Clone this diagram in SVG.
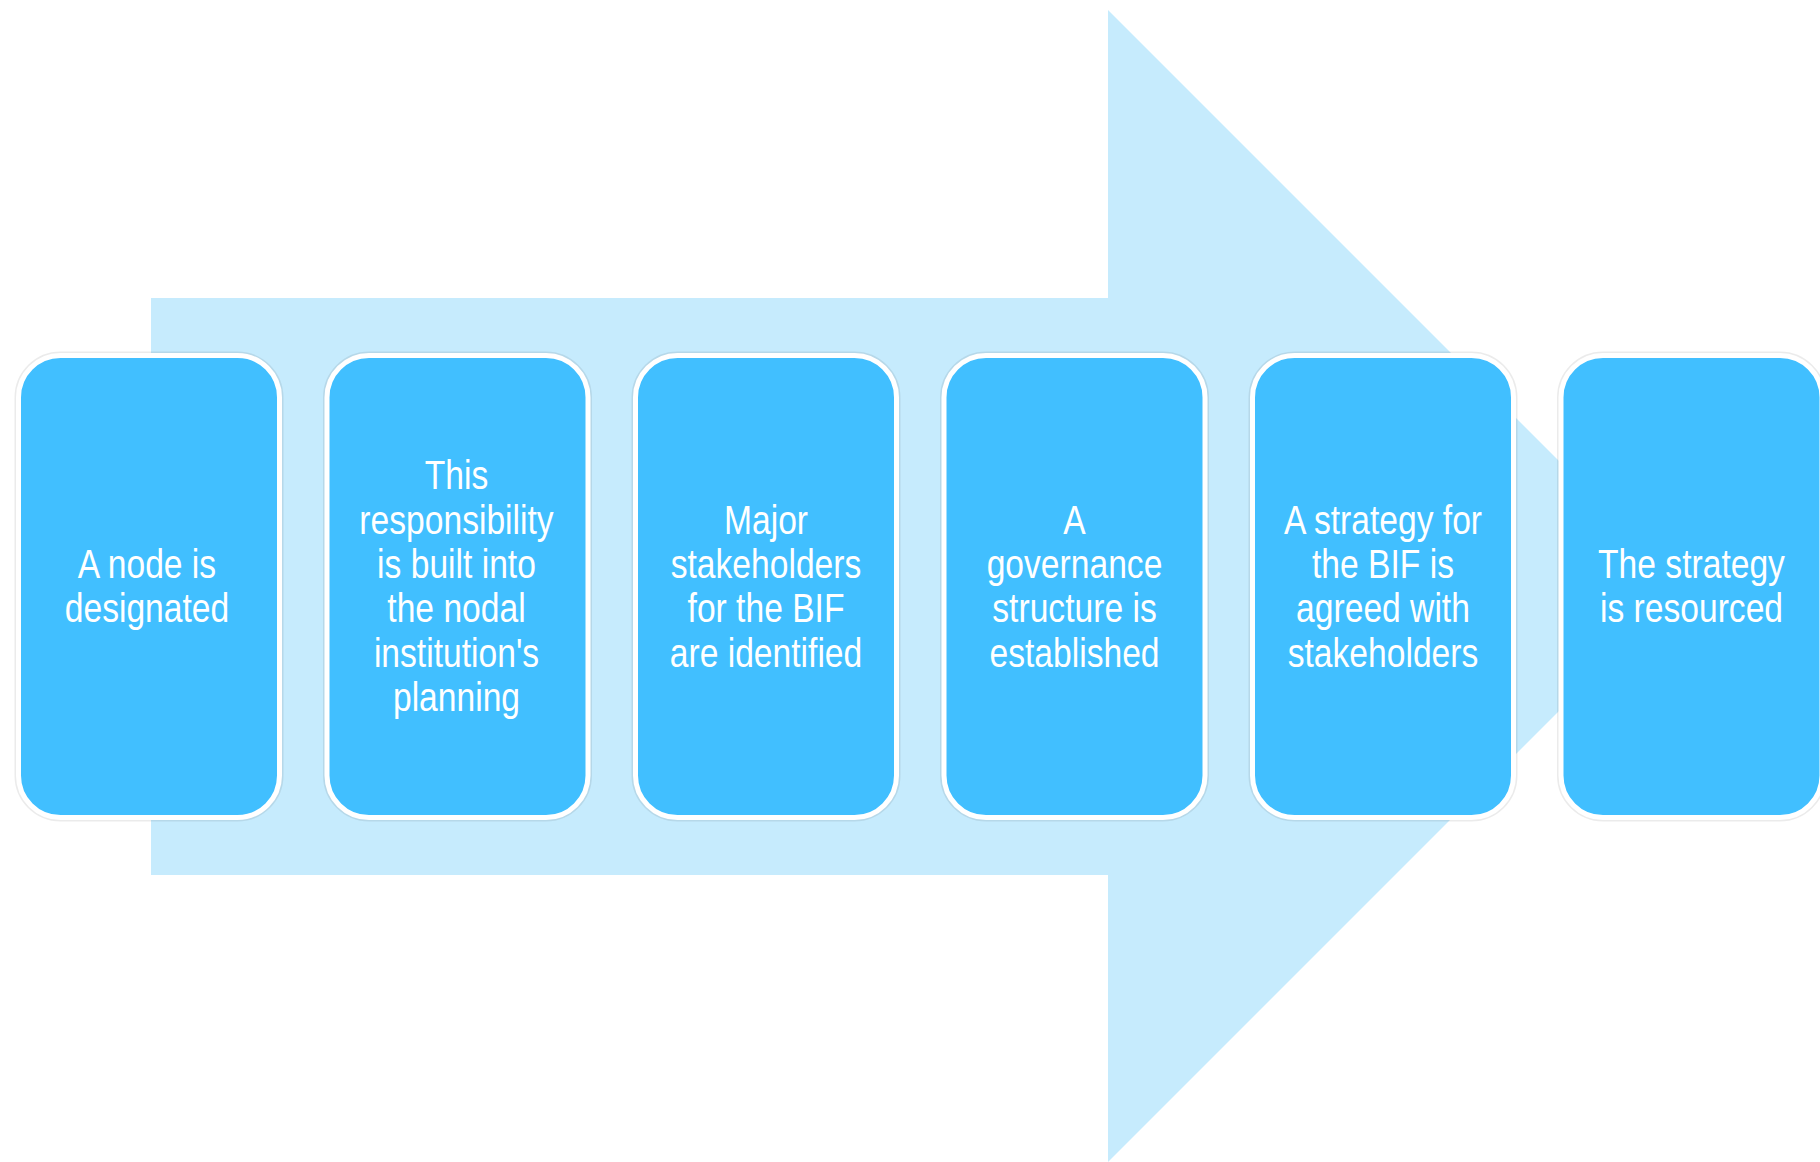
<svg xmlns="http://www.w3.org/2000/svg" width="1820" height="1162" viewBox="0 0 1820 1162">
<style>
.bg{fill:#C6EBFD}
.shadow{fill:none;stroke:#000000;stroke-opacity:0.08;stroke-width:8}
.box{fill:#41BFFF;stroke:#FFFFFF;stroke-width:5}
.lbl{font-family:"Liberation Sans",Arial,sans-serif;font-size:41px;fill:#FFFFFF;text-anchor:middle}
</style>
<rect width="1820" height="1162" fill="#FFFFFF"/>
<g id="connectors">
<polygon class="bg" points="151,298 1108,298 1108,10 1684,586 1108,1162 1108,875 151,875"/>
</g>
<g id="node1">
<rect class="shadow" x="18.5" y="355.5" width="261" height="462" rx="42"/>
<rect class="box" x="18.5" y="355.5" width="261" height="462" rx="42"/>
<g transform="translate(147,0) scale(0.82,1)">
<text class="lbl" x="0" y="578">A node is</text>
<text class="lbl" x="0" y="622.3">designated</text>
</g>
</g>
<g id="node2">
<rect class="shadow" x="327" y="355.5" width="261" height="462" rx="42"/>
<rect class="box" x="327" y="355.5" width="261" height="462" rx="42"/>
<g transform="translate(456.5,0) scale(0.82,1)">
<text class="lbl" x="0" y="489.5">This</text>
<text class="lbl" x="0" y="533.8">responsibility</text>
<text class="lbl" x="0" y="578">is built into</text>
<text class="lbl" x="0" y="622.3">the nodal</text>
<text class="lbl" x="0" y="666.6">institution's</text>
<text class="lbl" x="0" y="710.9">planning</text>
</g>
</g>
<g id="node3">
<rect class="shadow" x="635.5" y="355.5" width="261" height="462" rx="42"/>
<rect class="box" x="635.5" y="355.5" width="261" height="462" rx="42"/>
<g transform="translate(766,0) scale(0.82,1)">
<text class="lbl" x="0" y="533.8">Major</text>
<text class="lbl" x="0" y="578">stakeholders</text>
<text class="lbl" x="0" y="622.3">for the BIF</text>
<text class="lbl" x="0" y="666.6">are identified</text>
</g>
</g>
<g id="node4">
<rect class="shadow" x="944" y="355.5" width="261" height="462" rx="42"/>
<rect class="box" x="944" y="355.5" width="261" height="462" rx="42"/>
<g transform="translate(1074.5,0) scale(0.82,1)">
<text class="lbl" x="0" y="533.8">A</text>
<text class="lbl" x="0" y="578">governance</text>
<text class="lbl" x="0" y="622.3">structure is</text>
<text class="lbl" x="0" y="666.6">established</text>
</g>
</g>
<g id="node5">
<rect class="shadow" x="1252.5" y="355.5" width="261" height="462" rx="42"/>
<rect class="box" x="1252.5" y="355.5" width="261" height="462" rx="42"/>
<g transform="translate(1383,0) scale(0.82,1)">
<text class="lbl" x="0" y="533.8">A strategy for</text>
<text class="lbl" x="0" y="578">the BIF is</text>
<text class="lbl" x="0" y="622.3">agreed with</text>
<text class="lbl" x="0" y="666.6">stakeholders</text>
</g>
</g>
<g id="node6">
<rect class="shadow" x="1561" y="355.5" width="261" height="462" rx="42"/>
<rect class="box" x="1561" y="355.5" width="261" height="462" rx="42"/>
<g transform="translate(1691.5,0) scale(0.82,1)">
<text class="lbl" x="0" y="578">The strategy</text>
<text class="lbl" x="0" y="622.3">is resourced</text>
</g>
</g>
</svg>
